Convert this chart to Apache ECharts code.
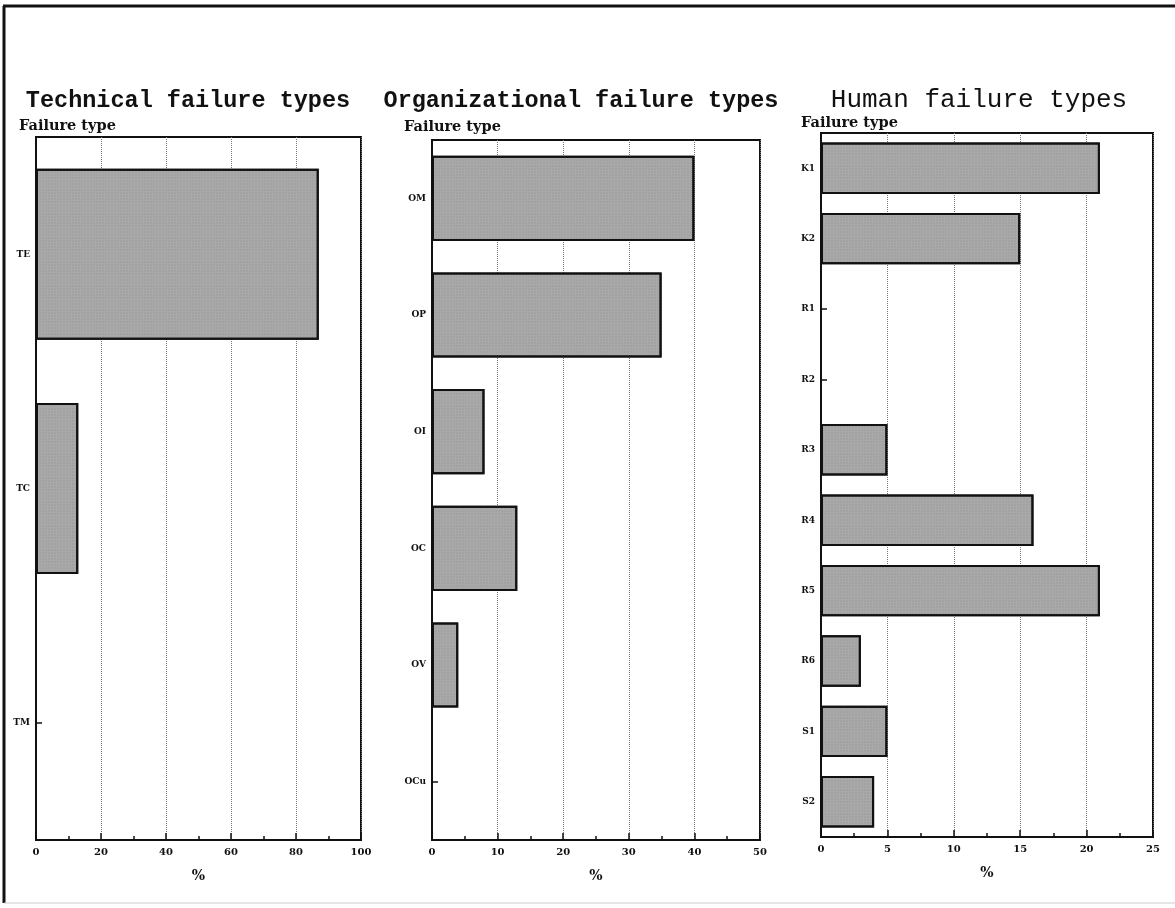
<!DOCTYPE html>
<html>
<head>
<meta charset="utf-8">
<script src="https://cdn.jsdelivr.net/npm/echarts@6/dist/echarts.min.js"></script>
<style>
html,body{margin:0;padding:0;background:#fff;}
#c{width:1175px;height:908px;}
</style>
</head>
<body>
<div id="c"></div>
<script>
// ---- data ----
const titles = ['Technical failure types', 'Organizational failure types', 'Human failure types'];
const techCats = ['TE', 'TC', 'TM'];
const techVals = [87, 13, 0];
const orgCats = ['OM', 'OP', 'OI', 'OC', 'OV', 'OCu'];
const orgVals = [40, 35, 8, 13, 4, 0];
const humCats = ['K1', 'K2', 'R1', 'R2', 'R3', 'R4', 'R5', 'R6', 'S1', 'S2'];
const humVals = [21, 15, 0, 0, 5, 16, 21, 3, 5, 4];
const xMax = [100, 50, 25];
const xInterval = [20, 10, 5];
const yName = 'Failure type';
const xName = '%';

const grids = [
  {left: 36, top: 137, width: 325, height: 703},
  {left: 432, top: 140, width: 328, height: 700},
  {left: 821, top: 133, width: 332, height: 704}
];
const cats = [techCats, orgCats, humCats];
const vals = [techVals, orgVals, humVals];

const serifBold = {fontFamily: 'DejaVu Serif', fontWeight: 'bold', color: '#111'};

const chart = echarts.init(document.getElementById('c'), null, {renderer: 'canvas'});
const option = {
  backgroundColor: '#fff',
  animation: false,
  title: [
    {text: titles[0], left: 183, top: 84, textAlign: 'center',
      textStyle: {fontFamily: 'Liberation Mono', fontWeight: 'bold', fontSize: 23.5, color: '#111'}},
    {text: titles[1], left: 576, top: 84, textAlign: 'center',
      textStyle: {fontFamily: 'Liberation Mono', fontWeight: 'bold', fontSize: 23.5, color: '#111'}},
    {text: titles[2], left: 974, top: 82, textAlign: 'center',
      textStyle: {fontFamily: 'Liberation Mono', fontWeight: 'normal', fontSize: 26, color: '#111'}},
    {text: yName, left: 14, top: 114, textStyle: Object.assign({fontSize: 14.5}, serifBold)},
    {text: yName, left: 399, top: 115, textStyle: Object.assign({fontSize: 14.5}, serifBold)},
    {text: yName, left: 796, top: 111, textStyle: Object.assign({fontSize: 14.5}, serifBold)}
  ],
  grid: grids.map(g => Object.assign({show: true, borderColor: '#111', borderWidth: 2, containLabel: false}, g)),
  xAxis: [0, 1, 2].map(i => ({
    gridIndex: i, type: 'value', min: 0, max: xMax[i], interval: xInterval[i],
    name: xName, nameLocation: 'middle', nameGap: 29,
    nameTextStyle: Object.assign({fontSize: 14}, serifBold),
    axisLine: {show: true, lineStyle: {color: '#111', width: 2}},
    axisTick: {show: true, inside: true, length: 7, lineStyle: {color: '#111', width: 1.5}},
    minorTick: {show: true, splitNumber: 2, length: 4, lineStyle: {color: '#111', width: 1.5}},
    axisLabel: Object.assign({fontSize: 10, margin: 7}, serifBold),
    splitLine: {show: true, lineStyle: {type: 'dotted', color: '#777', width: 1}}
  })),
  yAxis: [0, 1, 2].map(i => ({
    gridIndex: i, type: 'category', data: cats[i], inverse: true,
    axisLine: {show: true, lineStyle: {color: '#111', width: 2}},
    axisTick: {show: true, inside: true, alignWithLabel: true, length: 6, lineStyle: {color: '#111', width: 1.5}},
    axisLabel: Object.assign({fontSize: 9, margin: 6}, serifBold),
    splitLine: {show: false}
  })),
  series: [0, 1, 2].map(i => ({
    type: 'bar', xAxisIndex: i, yAxisIndex: i, data: vals[i], barWidth: '73%',
    itemStyle: {
      color: '#a9a9a9', borderColor: '#111', borderWidth: 2,
      decal: {symbol: 'rect', symbolSize: 0.5, dashArrayX: [2, 1], dashArrayY: [2, 1], color: 'rgba(70,70,70,0.25)'}
    }
  })),
  graphic: [
    {type: 'line', shape: {x1: 3, y1: 6, x2: 1175, y2: 6}, style: {stroke: '#111', lineWidth: 3}},
    {type: 'line', shape: {x1: 4, y1: 6, x2: 4, y2: 903}, style: {stroke: '#111', lineWidth: 3}},
    {type: 'line', shape: {x1: 4, y1: 903, x2: 1175, y2: 903}, style: {stroke: '#ccc', lineWidth: 1}}
  ]
};
chart.setOption(option);
</script>
</body>
</html>
